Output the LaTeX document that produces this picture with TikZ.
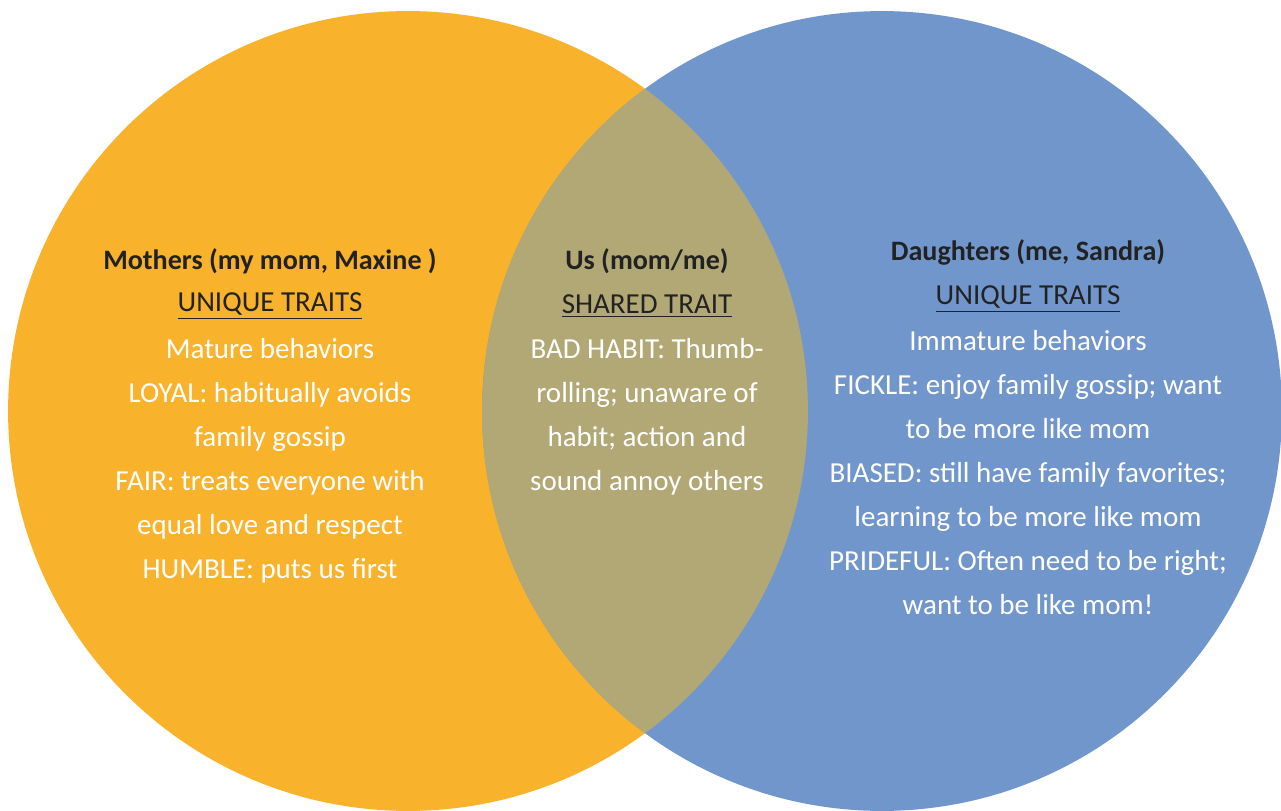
\documentclass[tikz,border=0pt]{standalone}
\usepackage{fontspec}
\setmainfont{Carlito}
\usetikzlibrary{positioning}
\definecolor{mom}{HTML}{F9B22B}
\definecolor{me}{HTML}{7196CB}
\definecolor{us}{HTML}{B2A876}
\definecolor{ink}{HTML}{222222}

\begin{document}
\begin{tikzpicture}[x=0.02cm, y=-0.02cm,
  every node/.style={font=\fontsize{16.5}{25}\selectfont, text=white, align=center, inner sep=0pt},
  title/.style={font=\fontsize{16}{25}\selectfont\bfseries, text=ink},
  head/.style={text=ink},
  body/.style={anchor=north}]
 \useasboundingbox (0,0) rectangle (1281,811);
 \fill[white] (0,0) rectangle (1281,811);
 % the two sets
 \node[circle, fill=mom, minimum size=16cm] (moms) at (408,411) {};
 \node[circle, fill=me, minimum size=16cm] (daughters) at (882,411) {};
 % overlap
 \begin{scope}
  \clip (moms.center) circle[radius=8cm];
  \fill[us] (daughters.center) circle[radius=8cm];
 \end{scope}
 % left
 \node[title] (momtitle) at (270,261) {Mothers (my mom, Maxine )};
 \node[head] (momhead) at (270,306) {\underline{UNIQUE TRAITS}};
 \node[body] (momtraits) at (270,338) {Mature behaviors\\ LOYAL: habitually avoids\\ family gossip\\
   FAIR: treats everyone with\\ equal love and respect\\ HUMBLE: puts us first};
 % middle
 \node[title] (ustitle) at (647,261) {Us (mom/me)};
 \node[head] (ushead) at (647,306) {\underline{SHARED TRAIT}};
 \node[body] (ustraits) at (647,338) {BAD HABIT: Thumb-\\ rolling; unaware of\\ habit; action and\\ sound annoy others};
 % right
 \node[title] (metitle) at (1028,252) {Daughters (me, Sandra)};
 \node[head] (mehead) at (1028,299) {\underline{UNIQUE TRAITS}};
 \node[body] (metraits) at (1028,330) {Immature behaviors\\ FICKLE: enjoy family gossip; want\\ to be more like mom\\
   BIASED: still have family favorites;\\ learning to be more like mom\\ PRIDEFUL: Often need to be right;\\ want to be like mom!};
\end{tikzpicture}
\end{document}
